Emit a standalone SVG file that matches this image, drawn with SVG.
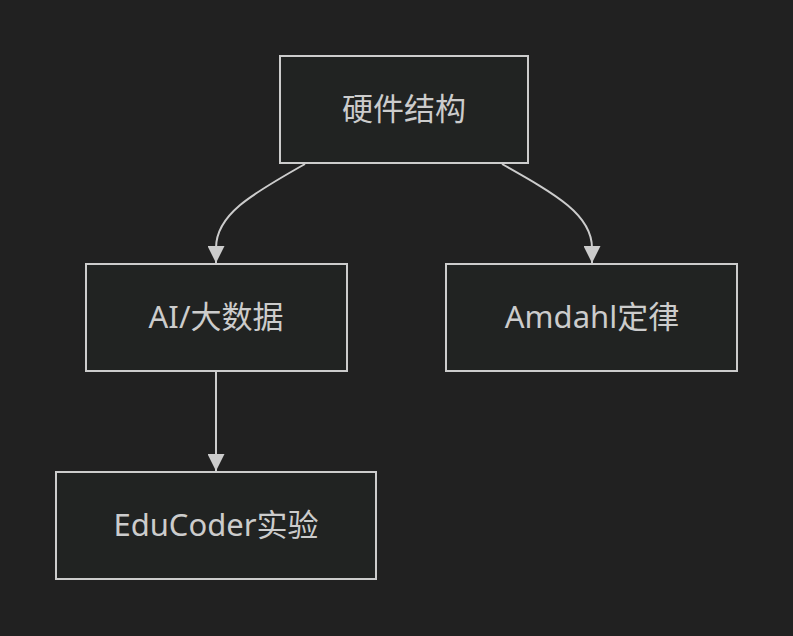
<svg xmlns="http://www.w3.org/2000/svg" width="793" height="636" viewBox="0 0 793 636">
<defs>
<style>
.node rect{fill:#212322;stroke:#cccccc;stroke-width:2}
.node text{fill:#cccccc;font-family:"Noto Sans","Noto Sans CJK SC",sans-serif;font-size:31px;text-anchor:middle;dominant-baseline:central}
.edge{fill:none;stroke:#cccccc;stroke-width:2}
</style>
<marker id="arr" viewBox="0 0 10 10" refX="10" refY="5" markerWidth="17" markerHeight="17" markerUnits="userSpaceOnUse" orient="auto">
<path d="M0,0 L10,5 L0,10 z" fill="#cccccc"/>
</marker>
</defs>
<rect width="793" height="636" fill="#212121"/>
<g id="connectors">
<path class="edge" d="M305,164 C250,195 216,215 216,248 L216,263" marker-end="url(#arr)"/>
<path class="edge" d="M502,164 C557,195 592,215 592,248 L592,263" marker-end="url(#arr)"/>
<path class="edge" d="M216,372 L216,471" marker-end="url(#arr)"/>
</g>
<g id="n1" class="node"><rect x="280" y="56" width="248" height="107"/><text x="404" y="108">硬件结构</text></g>
<g id="n2" class="node"><rect x="86" y="264" width="261" height="107"/><text x="216" y="316">AI/大数据</text></g>
<g id="n3" class="node"><rect x="446" y="264" width="291" height="107"/><text x="592" y="316">Amdahl定律</text></g>
<g id="n4" class="node"><rect x="56" y="472" width="320" height="107"/><text x="216" y="524">EduCoder实验</text></g>
</svg>
